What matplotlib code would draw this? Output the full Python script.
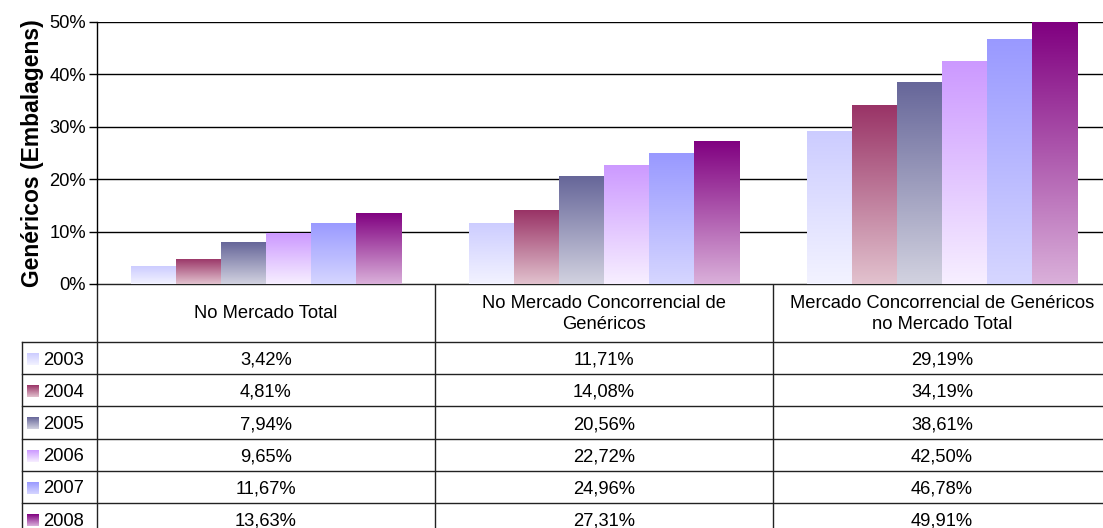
import matplotlib
matplotlib.use("Agg")
import matplotlib.pyplot as plt
from matplotlib.colors import LinearSegmentedColormap
import numpy as np

plt.rcParams['font.family'] = ['Liberation Sans', 'DejaVu Sans']

# data
categories = ['No Mercado Total',
              'No Mercado Concorrencial de\nGenéricos',
              'Mercado Concorrencial de Genéricos\nno Mercado Total']
years = ['2003', '2004', '2005', '2006', '2007', '2008']
values = {
    '2003': [3.42, 11.71, 29.19],
    '2004': [4.81, 14.08, 34.19],
    '2005': [7.94, 20.56, 38.61],
    '2006': [9.65, 22.72, 42.50],
    '2007': [11.67, 24.96, 46.78],
    '2008': [13.63, 27.31, 49.91],
}
# top colour / bottom colour of each gradient
top_colors = ['#CCCCFF', '#993366', '#666699', '#CC99FF', '#9999FF', '#800080']
bottom_colors = ['#F3F3FF', '#E2C2CE', '#D2D2E0', '#F7EFFF', '#D6D6FF', '#DAB0DA']

FS = 13.2
W, H = 1103, 528
fig = plt.figure(figsize=(W / 100, H / 100), dpi=100)

# pixel geometry
left, right = 97, 97 + 3 * 338
top, base = 22, 284
ax = fig.add_axes([left / W, 1 - base / H, (right - left) / W, (base - top) / H])

bw = 0.8 / len(years)
x = np.arange(len(categories)) + 0.5
grad = np.linspace(1, 0, 256).reshape(-1, 1)
for i, yr in enumerate(years):
    cmap = LinearSegmentedColormap.from_list(yr, [bottom_colors[i], top_colors[i]])
    xs = x - 0.4 + bw * (i + 0.5)
    bars = ax.bar(xs, values[yr], width=bw, color='none', edgecolor='none')
    for b in bars:
        x0, h = b.get_x(), b.get_height()
        im = ax.imshow(grad, cmap=cmap, aspect='auto', vmin=0, vmax=1,
                       extent=[x0, x0 + bw, 0, h], zorder=2, interpolation='bilinear')
        im.set_clip_path(b)
ax.set_xlim(0, 3)
ax.set_ylim(0, 50)

ax.set_yticks(range(0, 51, 10))
ax.set_yticklabels([f'{v}%' for v in range(0, 51, 10)], fontsize=FS)
ax.yaxis.grid(True, color='black', linewidth=1)
ax.set_axisbelow(True)
ax.set_xticks([])
for s in ['top', 'right', 'bottom']:
    ax.spines[s].set_visible(False)
ax.spines['left'].set_linewidth(1)
ax.tick_params(axis='y', length=6, width=1, pad=2)
ax.set_ylabel('Genéricos (Embalagens)', fontsize=16.5, fontweight='bold', labelpad=4)

# table drawn in pixel coordinates
tab = fig.add_axes([0, 0, 1, 1], zorder=-1)
tab.axis('off')
lc = '#222222'
head_bot = 342
row_h = 32.2
col_x = [left + 338 * k for k in range(4)]
leg_x = 22
n_rows = len(years)
row_y = [head_bot + row_h * k for k in range(n_rows + 1)]

tab.plot([left, right], [base, base], color=lc, lw=1)
for cx in col_x:
    tab.plot([cx, cx], [base, H + 10], color=lc, lw=1)
tab.plot([leg_x, leg_x], [head_bot, H + 10], color=lc, lw=1)
for ry in row_y:
    tab.plot([leg_x, right], [ry, ry], color=lc, lw=1)

for j, cat in enumerate(categories):
    tab.text((col_x[j] + col_x[j + 1]) / 2, (base + head_bot) / 2 + 1, cat,
             ha='center', va='center', fontsize=FS, linespacing=1.25)

for i, yr in enumerate(years):
    yc = (row_y[i] + row_y[i + 1]) / 2
    cmap = LinearSegmentedColormap.from_list(yr + 'k', [bottom_colors[i], top_colors[i]])
    tab.imshow(grad, cmap=cmap, aspect='auto', vmin=0, vmax=1,
               extent=[27, 39, yc + 7, yc - 5], interpolation='bilinear')
    tab.text(43, yc + 2, yr, ha='left', va='center', fontsize=FS)
    for j in range(len(categories)):
        txt = f'{values[yr][j]:.2f}%'.replace('.', ',')
        tab.text((col_x[j] + col_x[j + 1]) / 2, yc + 2, txt,
                 ha='center', va='center', fontsize=FS)
tab.set_xlim(0, W)
tab.set_ylim(H, 0)

fig.savefig('out.png', dpi=100)
